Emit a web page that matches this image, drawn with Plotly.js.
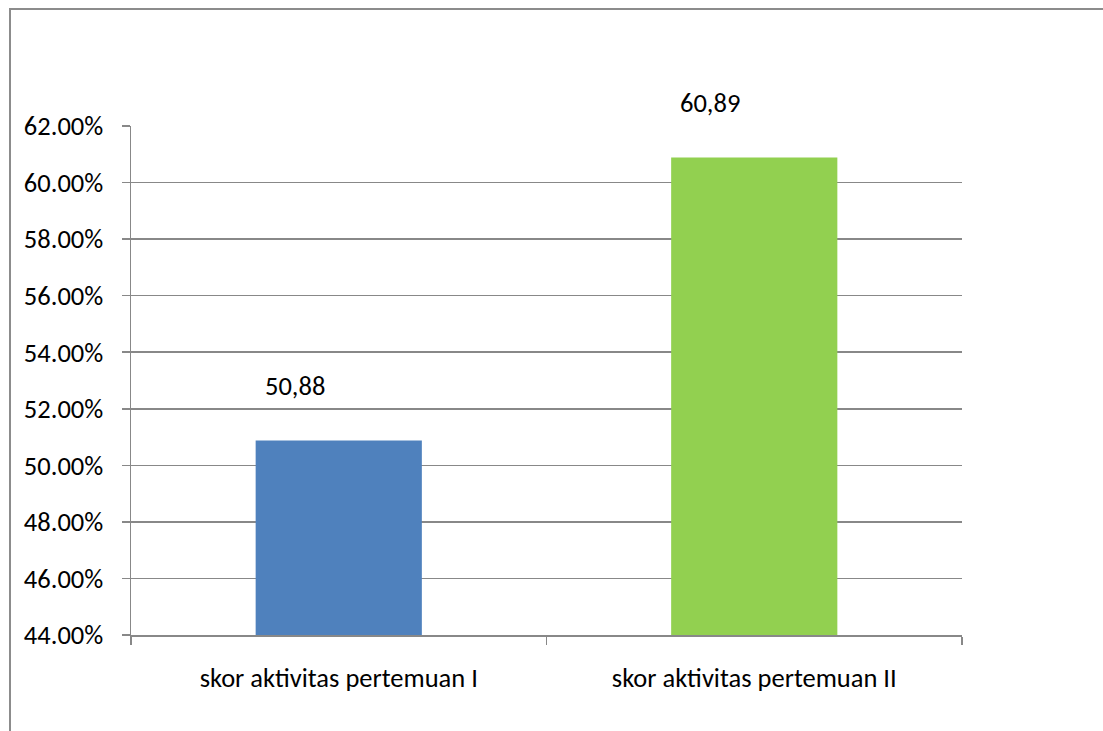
<!DOCTYPE html>
<html>
<head>
<meta charset="utf-8">
<script src="https://cdn.plot.ly/plotly-3.0.1.min.js"></script>
<style>
  html, body { margin: 0; padding: 0; background: #fff; }
  #frame { position: absolute; left: 9px; top: 8px; width: 1200px; height: 800px;
           border-left: 2px solid #8c8c8c; border-top: 2px solid #8c8c8c; }
  #chart { position: absolute; left: 0; top: 0; width: 1103px; height: 731px; }
</style>
</head>
<body>
<div id="frame"></div>
<div id="chart"></div>
<script>
const categories = ["skor aktivitas pertemuan I", "skor aktivitas pertemuan II"];
const values = [50.88, 60.89];
const valueLabels = ["50,88", "60,89"];
const barColors = ["#4f81bd", "#92d050"];
const yTicks = [44, 46, 48, 50, 52, 54, 56, 58, 60, 62];
const yTickText = yTicks.map(v => v.toFixed(2) + "%");

const FONT = "Carlito, Calibri, Lato, sans-serif";
const FS = 26.5;
const GRID = "#888888";

const trace = {
  type: "bar",
  x: categories,
  y: values,
  width: 0.4,
  marker: { color: barColors, line: { width: 0 } },
  hoverinfo: "none"
};

const annotations = categories.map((c, i) => ({
  x: c, y: values[i], xref: "x", yref: "y",
  text: valueLabels[i], showarrow: false,
  xanchor: "center", yanchor: "middle",
  xshift: -44, yshift: 54,
  font: { family: FONT, size: FS, color: "#000" }
}));

const layout = {
  width: 1103, height: 731,
  margin: { l: 131, r: 141, t: 126, b: 96, pad: 0 },
  paper_bgcolor: "rgba(0,0,0,0)",
  plot_bgcolor: "rgba(0,0,0,0)",
  showlegend: false,
  font: { family: FONT, size: FS, color: "#000" },
  xaxis: {
    type: "category",
    showline: true, linecolor: GRID, linewidth: 1.5,
    ticks: "outside", tickson: "boundaries", ticklen: 8, tickcolor: GRID, tickwidth: 1.5,
    showgrid: false, zeroline: false,
    ticklabelstandoff: 19,
    tickfont: { family: FONT, size: FS, color: "#000" }
  },
  yaxis: {
    range: [44, 62],
    tickmode: "array",
    tickvals: yTicks,
    ticktext: yTickText,
    showline: true, linecolor: GRID, linewidth: 1.5,
    ticks: "outside", ticklen: 8, tickcolor: GRID, tickwidth: 1.5,
    showgrid: true, gridcolor: GRID, gridwidth: 1.5,
    zeroline: false,
    ticklabelstandoff: 13,
    tickfont: { family: FONT, size: FS, color: "#000" }
  },
  annotations: annotations
};

Plotly.newPlot("chart", [trace], layout, { displayModeBar: false, staticPlot: true });
</script>
</body>
</html>
